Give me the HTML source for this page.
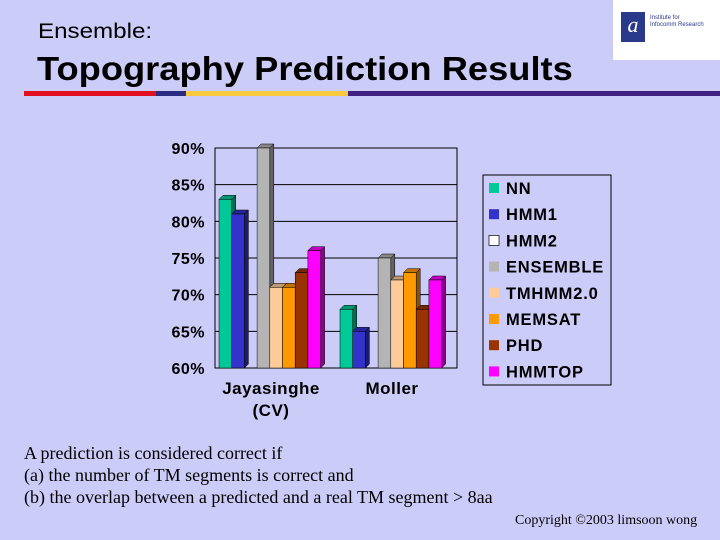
<!DOCTYPE html>
<html><head><meta charset="utf-8"><style>
body{margin:0;width:720px;height:540px;background:#ccccf8;overflow:hidden;position:relative;font-family:"Liberation Sans",sans-serif}
.t{position:absolute;color:#000;transform-origin:0 0;white-space:nowrap}
</style></head><body>
<div class="t" style="left:38px;top:20px;font-size:21px;transform:scaleX(1.15)">Ensemble:</div>
<div class="t" style="left:37px;top:50px;font-size:33px;font-weight:bold;transform:scaleX(1.1)">Topography Prediction Results</div>
<div style="position:absolute;left:24px;top:91px;height:5px;width:696px;background:linear-gradient(90deg,#e01020 0 132px,#2a2a80 132px 162px,#f8c840 162px 324px,#402080 324px)"></div>
<div style="position:absolute;left:613px;top:0;width:107px;height:60px;background:#fff">
<div style="position:absolute;left:8px;top:12px;width:24px;height:30px;background:#2a3a8a;color:#fff;font:italic 22px 'Liberation Serif',serif;text-align:center">a</div>
<div style="position:absolute;left:37px;top:15px;font-size:6px;color:#2a3a8a;line-height:7px">Institute for<br>Infocomm Research</div></div>
<svg width="720" height="540" style="position:absolute;left:0;top:0">
<g id="g"></g></svg>
<div class="t" style="left:24px;top:442px;font:18px/22px 'Liberation Serif',serif;transform:scaleX(1.0)">A prediction is considered correct if<br>(a) the number of TM segments is correct and<br>(b) the overlap between a predicted and a real TM segment &gt; 8aa</div>
<div class="t" style="left:515px;top:513px;font:14px 'Liberation Serif',serif">Copyright ©2003 limsoon wong</div>
<script>
const categories=["Jayasinghe (CV)","Moller"];
const series=["NN","HMM1","HMM2","ENSEMBLE","TMHMM2.0","MEMSAT","PHD","HMMTOP"];
const colors=["#00c896","#3333cc","#ffffff","#b4b4b4","#ffcc99","#ff9900","#993300","#ff00ff"];
const values=[[83,81,null,90,71,71,73,76],[68,65,null,75,72,73,68,72]];
const ticks=[60,65,70,75,80,85,90];
const NS="http://www.w3.org/2000/svg",g=document.getElementById('g');
const X0=215,X1=457,Y0=368,Y1=148,yMin=60,yMax=90;
const y=v=>Y0-(v-yMin)/(yMax-yMin)*(Y0-Y1);
const catW=(X1-X0)/categories.length,bw=12.7;
function el(t,a,p){const e=document.createElementNS(NS,t);for(const k in a)e.setAttribute(k,a[k]);(p||g).appendChild(e);return e;}
function shade(c,f){const n=parseInt(c.slice(1),16);return 'rgb('+[(n>>16)&255,(n>>8)&255,n&255].map(v=>Math.round(v*f)).join(',')+')';}
let r=el('rect',{x:X0,y:Y1,width:X1-X0,height:Y0-Y1,fill:'none',stroke:'#000','stroke-width':1});

ticks.forEach(t=>{
 let l=el('line',{x1:X0,x2:X1,y1:y(t),y2:y(t),stroke:'#000','stroke-width':1});
 
 let tx=el('text',{x:205,y:y(t)+6,'text-anchor':'end','font-size':16,'font-weight':'bold','letter-spacing':0.5,'font-family':'Liberation Sans'});
 tx.textContent=t+'%';
 
});
values.forEach((vals,ci)=>{
 const sx=X0+ci*catW+4;
 vals.forEach((v,si)=>{
  if(v==null)return;
  const x=sx+si*bw,yt=y(v),d=4;
  let gg=el('g',{});
  
  el('polygon',{points:`${x+bw},${yt} ${x+bw+d},${yt-d} ${x+bw+d},${Y0-d} ${x+bw},${Y0}`,fill:shade(colors[si],0.55),stroke:'#000','stroke-width':0.5},gg);
  el('polygon',{points:`${x},${yt} ${x+d},${yt-d} ${x+bw+d},${yt-d} ${x+bw},${yt}`,fill:shade(colors[si],0.75),stroke:'#000','stroke-width':0.5},gg);
  el('rect',{x:x,y:yt,width:bw,height:Y0-yt,fill:colors[si],stroke:'#000','stroke-width':0.5},gg);
 });
 const lines=categories[ci].split(' ');
 const cx=ci?392:271;
 lines.forEach((s,k)=>{let t=el('text',{x:cx,y:394+k*22,'text-anchor':'middle','font-size':17,'font-weight':'bold','letter-spacing':0.5,'font-family':'Liberation Sans'});t.textContent=s;
 });
});
let lb=el('rect',{x:483,y:175,width:128,height:210,fill:'none',stroke:'#000','stroke-width':1});

series.forEach((s,i)=>{
 const yy=189+i*26.2;
 let gg=el('g',{});
 
 el('rect',{x:489,y:yy-6,width:10,height:10,fill:colors[i],stroke:i==2?'#000':'none','stroke-width':0.7},gg);
 let t=el('text',{x:506,y:yy+5,'font-size':16.5,'font-weight':'bold','letter-spacing':0.8,'font-family':'Liberation Sans'},gg);t.textContent=s;
});
</script>
</body></html>
